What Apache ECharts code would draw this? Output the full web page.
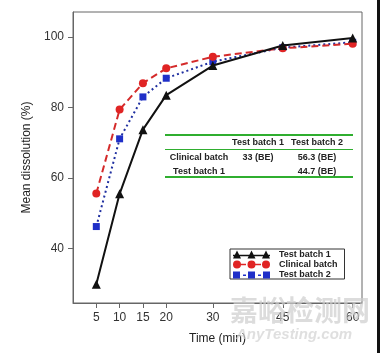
<!DOCTYPE html>
<html><head><meta charset="utf-8">
<script src="https://cdn.jsdelivr.net/npm/echarts@6/dist/echarts.min.js"></script>
<style>html,body{margin:0;padding:0;background:#fff}#c{width:380px;height:353px}</style>
</head><body><div id="c"></div>
<script>
const times = [5, 10, 15, 20, 30, 45, 60];
const testBatch1 = [29.8, 55.5, 73.7, 83.5, 91.9, 97.6, 99.7];
const clinicalBatch = [55.6, 79.4, 86.9, 91.1, 94.4, 96.8, 98.1];
const testBatch2 = [46.2, 71.1, 83.0, 88.3, 93.0, 97.0, 98.5];
const xTicks = [5, 10, 15, 20, 30, 45, 60];
const yTicks = [40, 60, 80, 100];
const tableColumns = ['Test batch 1', 'Test batch 2'];
const tableRowLabels = ['Clinical batch', 'Test batch 1'];
const tableCells = [['33 (BE)', '56.3 (BE)'], ['', '44.7 (BE)']];
const seriesNames = ['Test batch 1', 'Clinical batch', 'Test batch 2'];

const pair = v => times.map((t, i) => [t, v[i]]);
const FONT = 'Liberation Sans, Arial, sans-serif';

const iconTri = 'path://M0,8 L4,0 L8,8 Z M14.5,8 L18.5,0 L22.5,8 Z M29,8 L33,0 L37,8 Z M0,4.2 L37,4.2 L37,5.8 L0,5.8 Z';
const iconCirc = 'path://M0,4 A4,4 0 1,1 8,4 A4,4 0 1,1 0,4 Z M14.5,4 A4,4 0 1,1 22.5,4 A4,4 0 1,1 14.5,4 Z M29,4 A4,4 0 1,1 37,4 A4,4 0 1,1 29,4 Z M7,3.3 L13,3.3 L13,4.7 L7,4.7 Z M22,3.3 L28,3.3 L28,4.7 L22,4.7 Z';
const iconSq = 'path://M0,1 L7,1 L7,8 L0,8 Z M15,1 L22,1 L22,8 L15,8 Z M30,1 L37,1 L37,8 L30,8 Z M10,4 L13,4 L13,5.5 L10,5.5 Z M25,4 L28,4 L28,5.5 L25,5.5 Z M0,0 L0.01,0 L0.01,0.01 Z';

const green = '#2fae2f';
const tblLeft = 165, tblRight = 353;
const colX = [258, 317], rowLabelX = 199;
const headerY = 143, rowY = [157.5, 171.5];

const graphics = [
  {type:'rect', shape:{x:tblLeft,y:134,width:tblRight-tblLeft,height:2}, style:{fill:green}},
  {type:'rect', shape:{x:tblLeft,y:149,width:tblRight-tblLeft,height:1}, style:{fill:green}},
  {type:'rect', shape:{x:tblLeft,y:176,width:tblRight-tblLeft,height:2}, style:{fill:green}},
];
tableColumns.forEach((c, j) => graphics.push({type:'text', x:colX[j], y:headerY,
  style:{text:c, font:'bold 9px '+FONT, fill:'#222', align:'center', verticalAlign:'middle'}}));
tableRowLabels.forEach((r, i) => {
  graphics.push({type:'text', x:rowLabelX, y:rowY[i],
    style:{text:r, font:'bold 9px '+FONT, fill:'#222', align:'center', verticalAlign:'middle'}});
  tableCells[i].forEach((v, j) => graphics.push({type:'text', x:colX[j], y:rowY[i],
    style:{text:v, font:'bold 9px '+FONT, fill:'#222', align:'center', verticalAlign:'middle'}}));
});
graphics.push({type:'text', x:230, y:296, z:100,
  style:{text:'嘉峪检测网', font:'bold 28px "Noto Sans CJK SC"', fill:'rgba(205,205,205,0.7)'}});
graphics.push({type:'text', x:236, y:327, z:100,
  style:{text:'AnyTesting.com', font:'italic bold 15px '+FONT, fill:'rgba(210,210,210,0.7)'}});
graphics.push({type:'rect', shape:{x:377,y:0,width:3,height:353}, style:{fill:'#111'}});

const chart = echarts.init(document.getElementById('c'));
chart.setOption({
  animation: false,
  grid: {left: 73, right: 18, top: 12, bottom: 50, show: true, borderColor: '#666', borderWidth: 1},
  xAxis: {
    type: 'value', min: 0, max: 62,
    name: 'Time (min)', nameLocation: 'middle', nameGap: 30,
    nameTextStyle: {fontSize: 12, color: '#222', fontFamily: FONT},
    axisLine: {show: true, lineStyle: {color: '#666'}},
    axisTick: {show: true, length: 5, customValues: xTicks, lineStyle: {color: '#666'}},
    axisLabel: {customValues: xTicks, fontSize: 12, color: '#333', fontFamily: FONT, margin: 9},
    splitLine: {show: false}
  },
  yAxis: {
    type: 'value', min: 24.5, max: 107.1,
    name: 'Mean dissolution (%)', nameLocation: 'middle', nameGap: 40,
    nameTextStyle: {fontSize: 12, color: '#222', fontFamily: FONT},
    axisLine: {show: true, lineStyle: {color: '#666'}},
    axisTick: {show: true, length: 5, customValues: yTicks, lineStyle: {color: '#666'}},
    axisLabel: {customValues: yTicks, fontSize: 12, color: '#333', fontFamily: FONT, margin: 9},
    splitLine: {show: false}
  },
  legend: {
    orient: 'vertical', left: 230, top: 249,
    itemWidth: 37, itemHeight: 8, itemGap: 1,
    padding: [1, 7, 0, 3],
    borderColor: '#333', borderWidth: 1, backgroundColor: '#fff',
    textStyle: {fontSize: 9, fontWeight: 'bold', color: '#222', fontFamily: FONT, lineHeight: 8, padding: [0,0,0,4]},
    data: [
      {name: seriesNames[0], icon: iconTri},
      {name: seriesNames[1], icon: iconCirc},
      {name: seriesNames[2], icon: iconSq}
    ]
  },
  series: [
    {name: seriesNames[2], type: 'line', data: pair(testBatch2), symbol: 'rect', symbolSize: 7,
     itemStyle: {color: '#1f2fc8'}, lineStyle: {color: '#1f2fa0', width: 2, type: [2, 3]}, z: 3},
    {name: seriesNames[1], type: 'line', data: pair(clinicalBatch), symbol: 'circle', symbolSize: 8,
     itemStyle: {color: '#e02424'}, lineStyle: {color: '#d42a2a', width: 2, type: [7, 4]}, z: 4},
    {name: seriesNames[0], type: 'line', data: pair(testBatch1), symbol: 'triangle', symbolSize: 9,
     itemStyle: {color: '#111'}, lineStyle: {color: '#111', width: 2}, z: 5}
  ],
  graphic: graphics
});
</script></body></html>
